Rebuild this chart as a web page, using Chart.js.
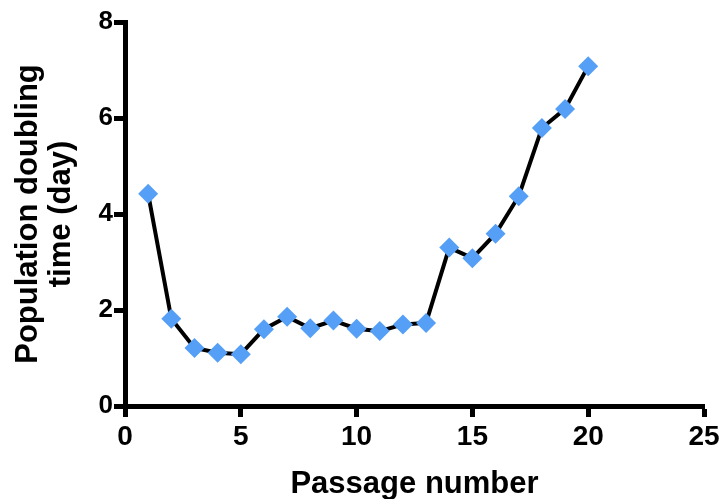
<!DOCTYPE html>
<html>
<head>
<meta charset="utf-8">
<style>
  html, body { margin: 0; padding: 0; background: #ffffff; }
  #wrap { width: 720px; height: 499px; position: relative; }
</style>
<script src="https://cdn.jsdelivr.net/npm/chart.js@4/dist/chart.umd.min.js"></script>
</head>
<body>
<div id="wrap"><canvas id="chart" width="720" height="499"></canvas></div>
<script>
// Population doubling time measured at each passage
const passages = [1, 2, 3, 4, 5, 6, 7, 8, 9, 10, 11, 12, 13, 14, 15, 16, 17, 18, 19, 20];
const doublingDays = [4.42, 1.82, 1.21, 1.11, 1.08, 1.60, 1.86, 1.62, 1.78, 1.61, 1.56, 1.70, 1.73, 3.30, 3.08, 3.59, 4.37, 5.79, 6.19, 7.08];

const xTitle = 'Passage number';
const yTitle = ['Population doubling', 'time (day)'];

const FONT = '"Liberation Sans", Arial, Helvetica, sans-serif';

const points = passages.map((p, i) => ({ x: p, y: doublingDays[i] }));

const axisCommon = {
  type: 'linear',
  grid: {
    display: true,
    drawOnChartArea: false,
    drawTicks: true,
    tickLength: 11,
    tickWidth: 5,
    tickColor: '#000000'
  },
  border: { display: true, color: '#000000', width: 5 }
};

new Chart(document.getElementById('chart'), {
  type: 'line',
  data: {
    datasets: [{
      data: points,
      borderColor: '#000000',
      borderWidth: 4,
      tension: 0,
      fill: false,
      pointStyle: 'rectRot',
      pointRadius: 10,
      pointHoverRadius: 10,
      pointBackgroundColor: '#559ff7',
      pointBorderWidth: 0,
      clip: false
    }]
  },
  options: {
    responsive: false,
    animation: false,
    events: [],
    layout: { padding: { left: 0, right: 16, top: 22, bottom: 0 } },
    plugins: {
      legend: { display: false },
      tooltip: { enabled: false }
    },
    scales: {
      x: Object.assign({}, axisCommon, {
        min: 0,
        max: 25,
        ticks: {
          stepSize: 5,
          color: '#000000',
          padding: 6,
          font: { family: FONT, size: 28, weight: 'bold', lineHeight: 1 }
        },
        title: {
          display: true,
          text: xTitle,
          color: '#000000',
          padding: { top: 0, bottom: -1 },
          font: { family: FONT, size: 31, weight: 'bold', lineHeight: 1 }
        },
        afterFit(scale) {
          scale.height = 93;
          scale.paddingLeft = 0;
          scale.paddingRight = 0;
        }
      }),
      y: Object.assign({}, axisCommon, {
        min: 0,
        max: 8,
        ticks: {
          stepSize: 2,
          color: '#000000',
          padding: 1,
          font: { family: FONT, size: 26, weight: 'bold' }
        },
        title: {
          display: true,
          text: yTitle,
          color: '#000000',
          padding: { top: 12, bottom: 0 },
          font: { family: FONT, size: 31, weight: 'bold', lineHeight: 1.06 }
        },
        afterFit(scale) {
          scale.width = 125;
          scale.paddingTop = 0;
          scale.paddingBottom = 0;
        }
      })
    }
  }
});
</script>
</body>
</html>
